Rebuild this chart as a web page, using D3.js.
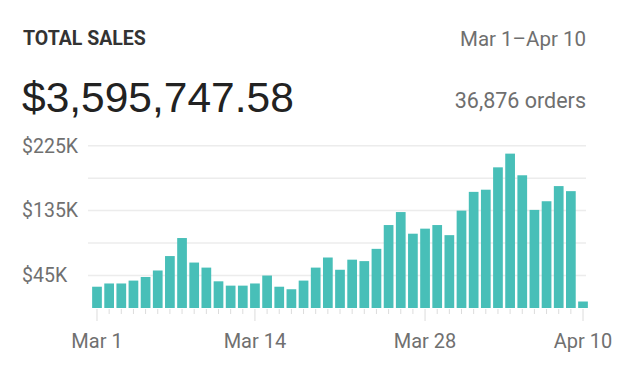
<!DOCTYPE html>
<html lang="en">
<head>
    <meta charset="UTF-8">
    <title>Total Sales</title>
    <script src="https://d3js.org/d3.v7.min.js"></script>
    <style>
        body { margin: 0; background: #fff; }
        text { font-family: Roboto, "Liberation Sans", sans-serif; }
    </style>
</head>
<body>
    <svg id="chart" width="621" height="380"></svg>
    <script>
        // daily sales, Mar 1 .. Apr 10 (in dollars)
        let sales = [
            29500, 34000, 34000, 38000, 43000, 52000, 72000, 97000, 63000, 56000,
            37000, 31000, 31000, 34000, 45000, 29500, 26000, 38000, 56000, 70000,
            53000, 67000, 65000, 82000, 115000, 133000, 103000, 110000, 115000, 101000,
            135000, 161000, 164000, 195000, 214000, 184000, 136000, 148000, 169000, 162000,
            9000
        ];
        let startDay = new Date(2020, 2, 1);
        let days = d3.timeDay.range(startDay, d3.timeDay.offset(startDay, sales.length));
        let tickLabels = ["Mar 1", "Mar 14", "Mar 28", "Apr 10"];
        let gridValues = [45000, 90000, 135000, 180000, 225000];
        let labelValues = [45000, 135000, 225000];

        let fmtDay = d3.timeFormat("%b %-d");
        let svg = d3.select("#chart");

        // header
        svg.append("text").attr("x", 23).attr("y", 45)
            .attr("font-size", 19.5).attr("font-weight", 700).attr("fill", "#333")
            .text("TOTAL SALES");
        svg.append("text").attr("x", 586).attr("y", 46)
            .attr("text-anchor", "end").attr("font-size", 20.5).attr("fill", "#6f6f6f")
            .text("Mar 1\u2013Apr 10");
        svg.append("text").attr("x", 22).attr("y", 112)
            .style("font-family", "'Liberation Sans', Arial, sans-serif")
            .attr("font-size", 42.5).attr("fill", "#222")
            .text("$3,595,747.58");
        svg.append("text").attr("x", 586).attr("y", 108)
            .attr("text-anchor", "end").attr("font-size", 21.5).attr("fill", "#6f6f6f")
            .text("36,876 orders");

        let x = d3.scaleBand()
            .domain(days.map(d => fmtDay(d)))
            .range([89.7, 590.3])
            .paddingInner(0.2)
            .paddingOuter(0.2);

        let y = d3.scaleLinear()
            .domain([0, 225000])
            .range([308, 145.7]);

        // grid lines
        svg.append("g").selectAll("line")
            .data(gridValues)
            .enter()
            .append("line")
            .attr("x1", 88).attr("x2", 586)
            .attr("y1", d => y(d)).attr("y2", d => y(d))
            .attr("stroke", "#ececec").attr("stroke-width", 1.5);

        // y labels
        svg.append("g").selectAll("text")
            .data(labelValues)
            .enter()
            .append("text")
            .attr("x", 22)
            .attr("y", d => y(d))
            .attr("dy", "0.35em")
            .attr("font-size", 19.5).attr("fill", "#707070")
            .text(d => "$" + (d / 1000) + "K");

        // small ticks under every bar
        svg.append("g").selectAll("line")
            .data(days)
            .enter()
            .append("line")
            .attr("x1", d => x(fmtDay(d)) + x.bandwidth() / 2)
            .attr("x2", d => x(fmtDay(d)) + x.bandwidth() / 2)
            .attr("y1", 309)
            .attr("y2", d => tickLabels.includes(fmtDay(d)) ? 321 : 314)
            .attr("stroke", "#dcdcdc").attr("stroke-width", 1);

        // bars
        svg.append("g").selectAll("rect")
            .data(sales)
            .enter()
            .append("rect")
            .attr("x", (v, i) => x(fmtDay(days[i])))
            .attr("y", v => y(v))
            .attr("width", x.bandwidth())
            .attr("height", v => y(0) - y(v))
            .attr("fill", "#48bfb8");

        // x labels
        svg.append("g").selectAll("text")
            .data(tickLabels)
            .enter()
            .append("text")
            .attr("x", d => x(d) + x.bandwidth() / 2)
            .attr("y", 348)
            .attr("text-anchor", "middle")
            .attr("font-size", 20).attr("fill", "#707070")
            .text(d => d);
    </script>
</body>
</html>
